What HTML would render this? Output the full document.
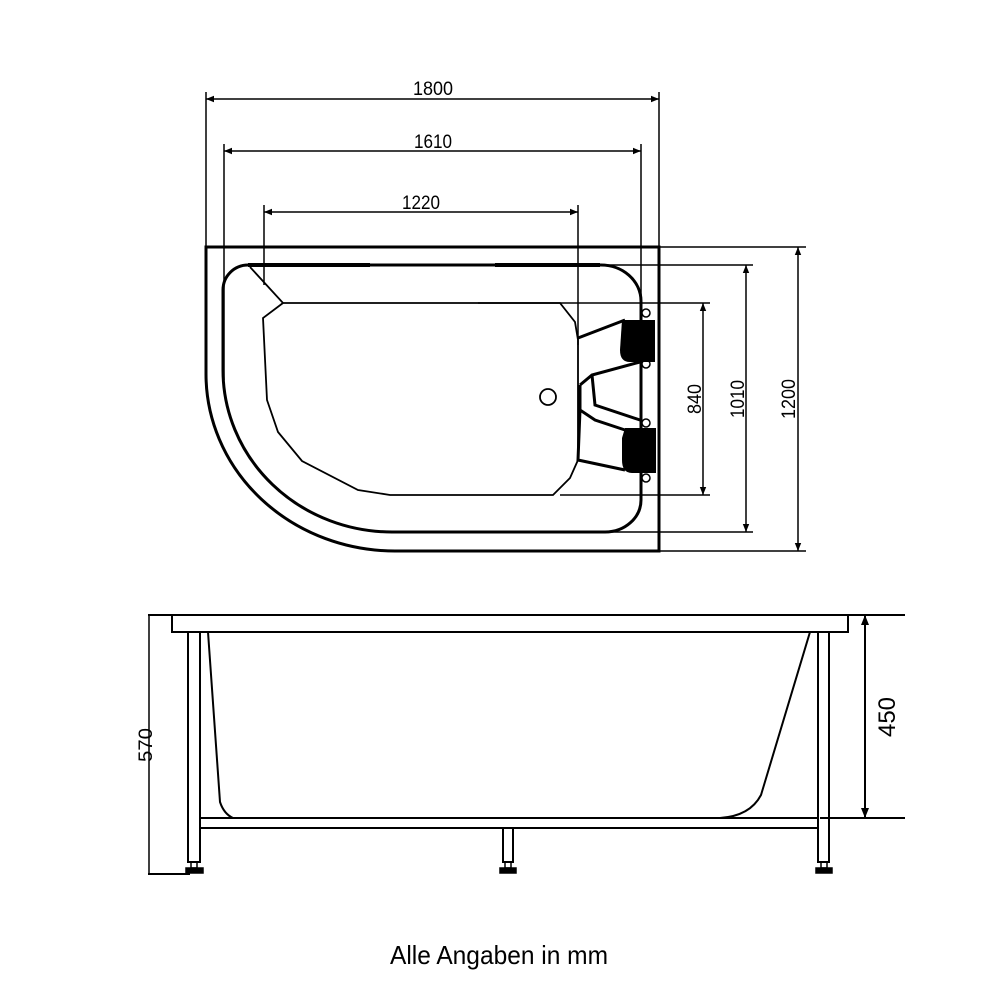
<!DOCTYPE html>
<html><head><meta charset="utf-8"><style>html,body{margin:0;padding:0;background:#fff}svg{display:block}</style></head>
<body>
<svg width="1000" height="1000" viewBox="0 0 1000 1000" xmlns="http://www.w3.org/2000/svg" font-family="Liberation Sans, sans-serif" fill="none" stroke="#000">
<defs>
<marker id="a" viewBox="0 0 10 10" refX="10" refY="5" markerWidth="10" markerHeight="8" orient="auto-start-reverse" markerUnits="userSpaceOnUse"><path d="M0,1 L10,5 L0,9 Z" fill="#000" stroke="none"/></marker>
<marker id="b" viewBox="0 0 10 10" refX="10" refY="5" markerWidth="24" markerHeight="10" orient="auto-start-reverse" markerUnits="userSpaceOnUse"><path d="M0,1 L10,5 L0,9 Z" fill="#000" stroke="none"/></marker>
</defs>
<g stroke-width="1.5">
<line x1="206" y1="92" x2="206" y2="247"/><line x1="659" y1="92" x2="659" y2="247"/>
<line x1="206" y1="99" x2="659" y2="99" marker-start="url(#a)" marker-end="url(#a)"/>
<line x1="224" y1="144" x2="224" y2="380"/><line x1="641" y1="144" x2="641" y2="310"/>
<line x1="224" y1="151" x2="641" y2="151" marker-start="url(#a)" marker-end="url(#a)"/>
<line x1="264" y1="205" x2="264" y2="285"/><line x1="578" y1="205" x2="578" y2="345"/>
<line x1="264" y1="212" x2="578" y2="212" marker-start="url(#a)" marker-end="url(#a)"/>
<line x1="659" y1="247" x2="806" y2="247"/><line x1="659" y1="551" x2="806" y2="551"/>
<line x1="798" y1="247" x2="798" y2="551" marker-start="url(#a)" marker-end="url(#a)"/>
<line x1="495" y1="265" x2="753" y2="265"/><line x1="600" y1="532" x2="753" y2="532"/>
<line x1="746" y1="265" x2="746" y2="532" marker-start="url(#a)" marker-end="url(#a)"/>
<line x1="478" y1="303" x2="710" y2="303"/><line x1="560" y1="495" x2="710" y2="495"/>
<line x1="703" y1="303" x2="703" y2="495" marker-start="url(#a)" marker-end="url(#a)"/>
</g>
<g fill="#000" stroke="none" font-size="19" text-anchor="middle">
<text x="433" y="95" textLength="40" lengthAdjust="spacingAndGlyphs">1800</text>
<text x="433" y="148" textLength="38" lengthAdjust="spacingAndGlyphs">1610</text>
<text x="421" y="209" textLength="38" lengthAdjust="spacingAndGlyphs">1220</text>
<text transform="translate(795,399) rotate(-90)" textLength="40" lengthAdjust="spacingAndGlyphs">1200</text>
<text transform="translate(744,399) rotate(-90)" textLength="38" lengthAdjust="spacingAndGlyphs">1010</text>
<text transform="translate(701,399) rotate(-90)" textLength="30" lengthAdjust="spacingAndGlyphs">840</text>
</g>
<path d="M206,247 H659 V551 H395 A189,177 0 0 1 206,374 Z" stroke-width="3"/>
<path d="M248,265 H600 A40,36 0 0 1 641,301 V500 A36,32 0 0 1 605,532 H392 A169,162 0 0 1 223,370 V290 A25,25 0 0 1 248,265 Z" stroke-width="3"/>
<line x1="248" y1="265" x2="370" y2="265" stroke-width="4"/>
<line x1="495" y1="265" x2="600" y2="265" stroke-width="4"/>
<path d="M250,267 L283,303 H560 L575,322 L578,340 V460 L570,478 L553,495 H390 L358,490 L302,461 L278,432 L267,400 L263,318 L283,303" stroke-width="1.8"/>
<circle cx="548" cy="397" r="8" stroke-width="1.8"/>
<g stroke-width="3">
<path d="M578,338 L625,320"/><path d="M580,385 L592,375 L640,362"/><path d="M592,375 L595,405 L640,420"/>
<path d="M580,385 V410 L595,420 L625,430"/><path d="M580,410 L578,460 L625,470"/>
</g>
<g fill="#000" stroke="none">
<path d="M622,320 H655 V362 H630 Q620,362 620,350 Z"/><path d="M625,428 H656 V473 H632 Q622,473 622,460 V438 Z"/>
</g>
<g stroke-width="1.5"><circle cx="646" cy="313" r="4"/><circle cx="646" cy="364" r="4"/><circle cx="646" cy="423" r="4"/><circle cx="646" cy="478" r="4"/></g>
<g stroke-width="2">
<line x1="148" y1="615" x2="905" y2="615"/>
<path d="M172,615 V632 H848 V615"/>
<line x1="820" y1="818" x2="905" y2="818"/>
<line x1="148" y1="874" x2="190" y2="874"/>
<rect x="188" y="632" width="12" height="230"/>
<rect x="818" y="632" width="11" height="230"/>
<rect x="503" y="828" width="10" height="34"/>
<rect x="200" y="818" width="618" height="10"/>
<path d="M208,632 L220,802 Q224,814 233,818"/>
<path d="M810,632 L761,795 Q750,816 720,818"/>
</g>
<g stroke-width="1.5">
<rect x="191" y="862" width="6" height="6"/><rect x="186" y="868" width="17" height="5" fill="#000"/>
<rect x="505" y="862" width="6" height="6"/><rect x="500" y="868" width="16" height="5" fill="#000"/>
<rect x="821" y="862" width="6" height="6"/><rect x="816" y="868" width="16" height="5" fill="#000"/>
<line x1="149" y1="615" x2="149" y2="874"/>
</g>
<line x1="865" y1="615" x2="865" y2="818" stroke-width="2" marker-start="url(#b)" marker-end="url(#b)"/>
<g fill="#000" stroke="none" text-anchor="middle">
<text transform="translate(152,745) rotate(-90)" font-size="19" textLength="34" lengthAdjust="spacingAndGlyphs">570</text>
<text transform="translate(895,717) rotate(-90)" font-size="24">450</text>
<text x="499" y="964" font-size="26" textLength="218" lengthAdjust="spacingAndGlyphs">Alle Angaben in mm</text>
</g>
</svg>
</body></html>
